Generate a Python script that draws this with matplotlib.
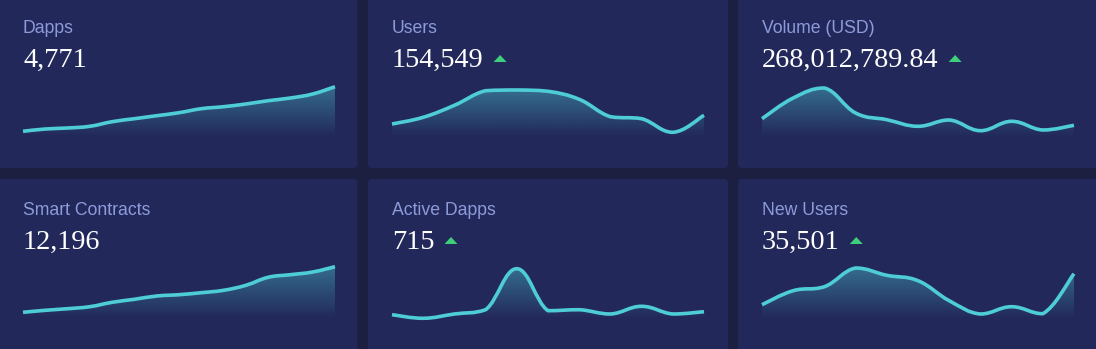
import numpy as np
import matplotlib
matplotlib.use("Agg")
import matplotlib.pyplot as plt
from matplotlib.path import Path
from matplotlib.patches import PathPatch, FancyBboxPatch, Polygon

# Card titles, headline figures and whether the figure is trending up
titles = ["Dapps", "Users", "Volume (USD)", "Smart Contracts", "Active Dapps", "New Users"]
values = ["4,771", "154,549", "268,012,789.84", "12,196", "715", "35,501"]
trend_up = [False, True, True, False, True, True]

# Sparkline series (relative heights)
dapps = [5.7, 8, 9, 10.7, 15.3, 18.3, 21.3, 24.3, 28.3, 30.3, 33, 36.3, 39, 43, 50.3]
users = [13, 19.7, 31.7, 46.3, 47, 45.7, 37.7, 20.3, 18.3, 4.7, 21.7]
volume = [18.3, 39, 49, 24, 17.3, 10.7, 17, 6.3, 15.7, 7, 11.7]
contracts = [6.7, 8.7, 10.3, 12.3, 16.7, 19.7, 23, 24.3, 26.3, 28.7, 33.7, 41.7, 44.3, 47, 52.3]
active_dapps = [4.3, 0.7, 5, 9.3, 50.3, 8.3, 9.3, 5, 12.7, 5, 7.3]
new_users = [14.3, 28.3, 32.3, 51, 43.7, 38.3, 18.3, 5, 12.3, 5.3, 45.3]
series = [dapps, users, volume, contracts, active_dapps, new_users]

W, H = 1096, 349
BG = "#1c1f3f"
CARD = "#22285a"
LINE = "#4fcdd6"
LABEL = "#8e9bda"
GREEN = "#3dcf7a"

fig = plt.figure(figsize=(W / 100, H / 100), dpi=100, facecolor=BG)
bg = fig.add_axes([0, 0, 1, 1])
bg.set_xlim(0, W)
bg.set_ylim(H, 0)
bg.axis("off")

card_x = [(-6, 357.5), (368, 728), (738, 1102)]
row_y = [(-6, 168), (179, 360)]
chart_x = [23, 392, 762]
chart_w = 312
row_off = [0, 182]


def smooth_paths(xs, ys, s=0.2):
    pts = np.column_stack([xs, ys]).astype(float)
    n = len(pts)
    verts = [pts[0]]
    codes = [Path.MOVETO]
    for i in range(n - 1):
        p0, p1 = pts[i], pts[i + 1]
        v0 = pts[min(i + 1, n - 1)] - pts[max(i - 1, 0)]
        v1 = pts[min(i + 2, n - 1)] - pts[i]
        c1 = p0 + v0 * s
        c2 = p1 - v1 * s
        lo, hi = min(p0[1], p1[1]), max(p0[1], p1[1])
        c1[1] = np.clip(c1[1], lo, hi)
        c2[1] = np.clip(c2[1], lo, hi)
        verts += [c1, c2, p1]
        codes += [Path.CURVE4] * 3
    line = Path(verts, codes)
    area = Path(verts + [(xs[-1], 0), (xs[0], 0), (xs[0], 0)],
                codes + [Path.LINETO, Path.LINETO, Path.CLOSEPOLY])
    return line, area


grad = np.zeros((256, 1, 4))
grad[..., :3] = matplotlib.colors.to_rgb(LINE)
grad[:, 0, 3] = np.linspace(0.42, 0.0, 256)

texts = []
for k in range(6):
    r, c = divmod(k, 3)
    x0, x1 = card_x[c]
    y0, y1 = row_y[r]
    bg.add_patch(FancyBboxPatch((x0, y0), x1 - x0, y1 - y0,
                                boxstyle="round,pad=0,rounding_size=4",
                                facecolor=CARD, edgecolor="none"))
    tx = chart_x[c]
    bg.text(tx, 33 + row_off[r], titles[k], color=LABEL, fontsize=12.7,
            family="Liberation Sans", va="baseline", ha="left")
    t = bg.text(tx, 67 + row_off[r], values[k], color="white", fontsize=20.3,
                family="Liberation Serif", va="baseline", ha="left")
    texts.append(t)

    # sparkline
    ys = series[k]
    xs = np.arange(len(ys))
    top, base = 80 + row_off[r], 137 + row_off[r]
    ax = fig.add_axes([tx / W, 1 - base / H, chart_w / W, (base - top) / H])
    ax.set_facecolor("none")
    ax.axis("off")
    line, area = smooth_paths(xs, ys)
    clip = PathPatch(area, facecolor="none", edgecolor="none")
    ax.add_patch(clip)
    im = ax.imshow(grad, extent=[xs[0], xs[-1], 0, max(ys)], aspect="auto",
                   origin="upper", interpolation="bilinear")
    im.set_clip_path(clip)
    ax.add_patch(PathPatch(line, facecolor="none", edgecolor=LINE, lw=2.6,
                           capstyle="butt", joinstyle="round", clip_on=False))
    ax.set_xlim(xs[0], xs[-1])
    ax.set_ylim(0, base - top)

# green up-arrows after the headline figures
fig.canvas.draw()
renderer = fig.canvas.get_renderer()
for k, t in enumerate(texts):
    if not trend_up[k]:
        continue
    r = k // 3
    ext = t.get_window_extent(renderer)
    ax0 = ext.x1 + 10
    yb = 62 + row_off[r]
    bg.add_patch(Polygon([(ax0, yb), (ax0 + 13, yb), (ax0 + 6.5, yb - 7)],
                         closed=True, facecolor=GREEN, edgecolor="none"))

fig.savefig("out.png", dpi=100, facecolor=BG)
